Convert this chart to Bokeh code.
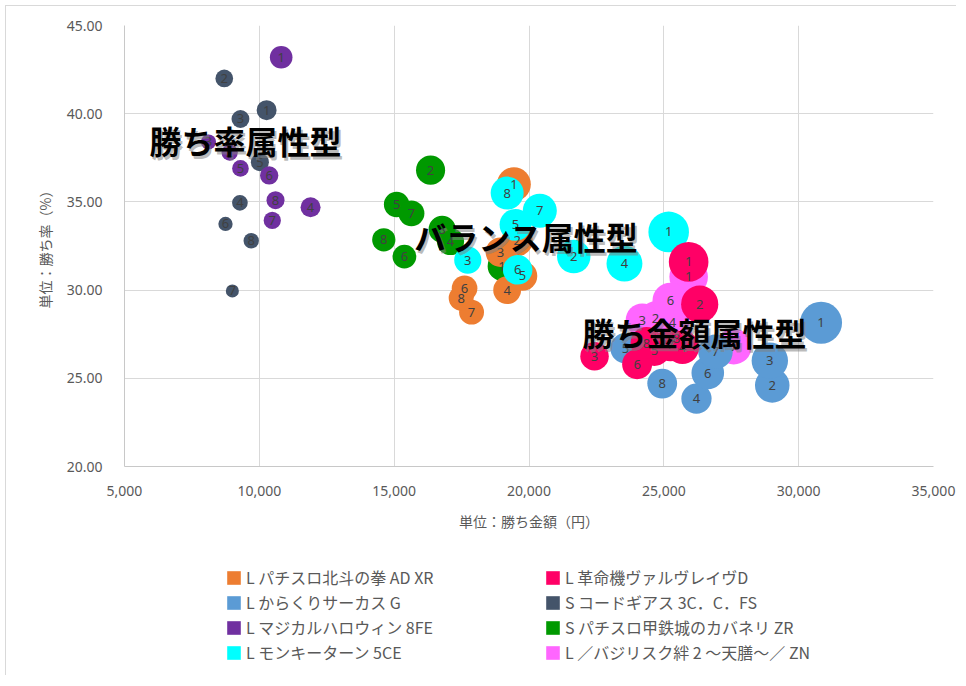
from bokeh.plotting import figure
from bokeh.layouts import column
from bokeh.models import (Range1d, SingleIntervalTicker, NumeralTickFormatter,
                          Legend, LegendItem, ColumnDataSource)
from bokeh.core.properties import value
from bokeh.embed import file_html
from bokeh.resources import INLINE

# ---------------- data ----------------
point_labels = ["1", "2", "3", "4", "5", "6", "7", "8"]

hokuto_amount = [19440, 19560, 18940, 19190, 19760, 17610, 17870, 17485]
hokuto_rate = [36.0, 32.8, 32.15, 30.0, 30.8, 30.1, 28.75, 29.55]

kakumei_amount = [25920, 26330, 22430, 25690, 24650, 24010, 25245, 24355]
kakumei_rate = [31.6, 29.2, 26.25, 26.75, 26.6, 25.8, 26.9, 27.0]

karakuri_amount = [30830, 29020, 28930, 26210, 23580, 26630, 26915, 24940]
karakuri_rate = [28.15, 24.6, 26.0, 23.85, 26.7, 25.3, 26.5, 24.7]

geass_amount = [10270, 8700, 9300, 9280, 10020, 8745, 9000, 9700]
geass_rate = [40.2, 42.0, 39.7, 34.95, 37.25, 33.75, 29.95, 32.8]

magical_amount = [10810, 8900, 8115, 11900, 9300, 10365, 10480, 10600]
magical_rate = [43.2, 37.8, 38.4, 34.7, 36.9, 36.5, 33.95, 35.1]

kabaneri_amount = [19000, 16350, 16780, 17090, 15090, 15380, 15640, 14615]
kabaneri_rate = [31.35, 36.8, 33.45, 32.75, 34.85, 31.9, 34.35, 32.85]

monkey_amount = [25180, 21660, 17730, 23540, 19500, 19580, 20400, 19190]
monkey_rate = [33.3, 31.9, 31.7, 31.5, 33.7, 31.15, 34.5, 35.5]

basilisk_amount = [25920, 24690, 24200, 25320, 24950, 25245, 27590, 25470]
basilisk_rate = [30.75, 28.4, 28.3, 28.15, 27.15, 29.4, 26.8, 27.25]

series_names = {
    "hokuto": "L パチスロ北斗の拳 AD XR",
    "kakumei": "L 革命機ヴァルヴレイヴD",
    "karakuri": "L からくりサーカス G",
    "geass": "S コードギアス 3C．C．FS",
    "magical": "L マジカルハロウィン 8FE",
    "kabaneri": "S パチスロ甲鉄城のカバネリ ZR",
    "monkey": "L モンキーターン 5CE",
    "basilisk": "L ／バジリスク絆 2 ～天膳～／ ZN",
}
series_colors = {
    "hokuto": "#ED7D31",
    "kakumei": "#FF0066",
    "karakuri": "#5B9BD5",
    "geass": "#44546A",
    "magical": "#7030A0",
    "kabaneri": "#009900",
    "monkey": "#00FFFF",
    "basilisk": "#FF66FF",
}
series_data = {
    "hokuto": (hokuto_amount, hokuto_rate),
    "kakumei": (kakumei_amount, kakumei_rate),
    "karakuri": (karakuri_amount, karakuri_rate),
    "geass": (geass_amount, geass_rate),
    "magical": (magical_amount, magical_rate),
    "kabaneri": (kabaneri_amount, kabaneri_rate),
    "monkey": (monkey_amount, monkey_rate),
    "basilisk": (basilisk_amount, basilisk_rate),
}
draw_order = ["kabaneri", "hokuto", "monkey", "basilisk", "karakuri", "kakumei", "geass", "magical"]
legend_col1 = ["hokuto", "karakuri", "magical", "monkey"]
legend_col2 = ["kakumei", "geass", "kabaneri", "basilisk"]

group_titles = ["勝ち率属性型", "バランス属性型", "勝ち金額属性型"]
group_x = [9490, 19900, 26140]
group_y = [38.5, 33.05, 27.65]

x_title = "単位：勝ち金額（円）"
y_title = "単位：勝ち率（%）"

# bubble size = expected value (amount x rate) mapped to px diameter
SIZE_SCALE = 4.84e-5

# ---------------- main figure ----------------
p = figure(width=950, height=534,
           x_range=Range1d(5000, 35000), y_range=Range1d(20, 45),
           output_backend="svg", toolbar_location=None,
           min_border_left=118, min_border_right=23,
           min_border_top=19, min_border_bottom=74)
p.outline_line_color = None
p.background_fill_color = "white"
p.border_fill_color = "white"

p.xaxis.ticker = SingleIntervalTicker(interval=5000)
p.yaxis.ticker = SingleIntervalTicker(interval=5)
p.xgrid.ticker = SingleIntervalTicker(interval=5000)
p.ygrid.ticker = SingleIntervalTicker(interval=5)
p.xaxis.formatter = NumeralTickFormatter(format="0,0")
p.yaxis.formatter = NumeralTickFormatter(format="0.00")
for g in (p.xgrid, p.ygrid):
    g.grid_line_color = "#D9D9D9"
    g.grid_line_width = 1
for ax in (p.xaxis, p.yaxis):
    ax.axis_line_color = "#C8C8C8"
    ax.major_tick_line_color = None
    ax.minor_tick_line_color = None
    ax.major_label_text_color = "#595959"
    ax.major_label_text_font = "Noto Sans"
    ax.major_label_text_font_size = "14px"
    ax.axis_label_text_color = "#595959"
    ax.axis_label_text_font = "Noto Sans CJK JP"
    ax.axis_label_text_font_size = "14px"
    ax.axis_label_text_font_style = "normal"
p.xaxis.axis_label = x_title
p.yaxis.axis_label = y_title
p.xaxis.major_label_standoff = 13
p.yaxis.major_label_standoff = 16
p.xaxis.axis_label_standoff = 12
p.yaxis.axis_label_standoff = 9

# bubbles
label_sources = []
for key in draw_order:
    xs, ys = series_data[key]
    src = ColumnDataSource(dict(
        x=xs, y=ys, lab=point_labels,
        size=[a * r * SIZE_SCALE for a, r in zip(xs, ys)],
    ))
    p.scatter("x", "y", size="size", source=src, marker="circle",
              fill_color=series_colors[key], line_color=None)
    label_sources.append(src)

for src in label_sources:
    p.text("x", "y", text="lab", source=src, text_align="center",
           text_baseline="middle", text_color="#404040",
           text_font=value("Noto Sans"), text_font_size="13px")

# group annotations with shadow
gsrc = ColumnDataSource(dict(x=group_x, y=group_y, t=group_titles))
p.text("x", "y", text="t", source=gsrc, text_align="center", text_baseline="middle",
       text_color="#808080", text_alpha=0.55, x_offset=2, y_offset=3,
       text_font=value("Noto Sans CJK JP"), text_font_style="bold", text_font_size="32px")
p.text("x", "y", text="t", source=gsrc, text_align="center", text_baseline="middle",
       text_color="#000000",
       text_font=value("Noto Sans CJK JP"), text_font_style="bold", text_font_size="32px")

# ---------------- legend figure ----------------
lg = figure(width=950, height=135, output_backend="svg", toolbar_location=None,
            x_range=Range1d(0, 1), y_range=Range1d(0, 1),
            x_axis_location=None, y_axis_location=None,
            min_border_left=0, min_border_right=0, min_border_top=0, min_border_bottom=0)
lg.outline_line_color = None
lg.xgrid.visible = False
lg.ygrid.visible = False
lg.border_fill_color = "white"

NAN = float("nan")


def make_items(keys):
    items = []
    for key in keys:
        # legend-key only renderer (NaN geometry -> nothing drawn in the frame)
        r = lg.quad(left=[NAN], right=[NAN], top=[NAN], bottom=[NAN],
                    fill_color=series_colors[key], line_color=None)
        items.append(LegendItem(label=series_names[key], renderers=[r]))
    return items


for keys, loc in ((legend_col1, (101, 11)), (legend_col2, (420, 11))):
    leg = Legend(items=make_items(keys), location=loc, orientation="vertical",
                 glyph_width=17, glyph_height=17, label_height=20,
                 label_standoff=4, spacing=1, padding=0, margin=0,
                 border_line_color=None, background_fill_alpha=0,
                 label_text_color="#595959", label_text_font="Noto Sans CJK JP",
                 label_text_font_size="16px")
    lg.add_layout(leg)

layout = column(p, lg, spacing=0)
layout.styles = {"border-left": "1px solid #D9D9D9", "border-top": "1px solid #D9D9D9",
                 "margin-left": "5px", "margin-top": "5px"}

open("out.html", "w").write(file_html(layout, INLINE))
